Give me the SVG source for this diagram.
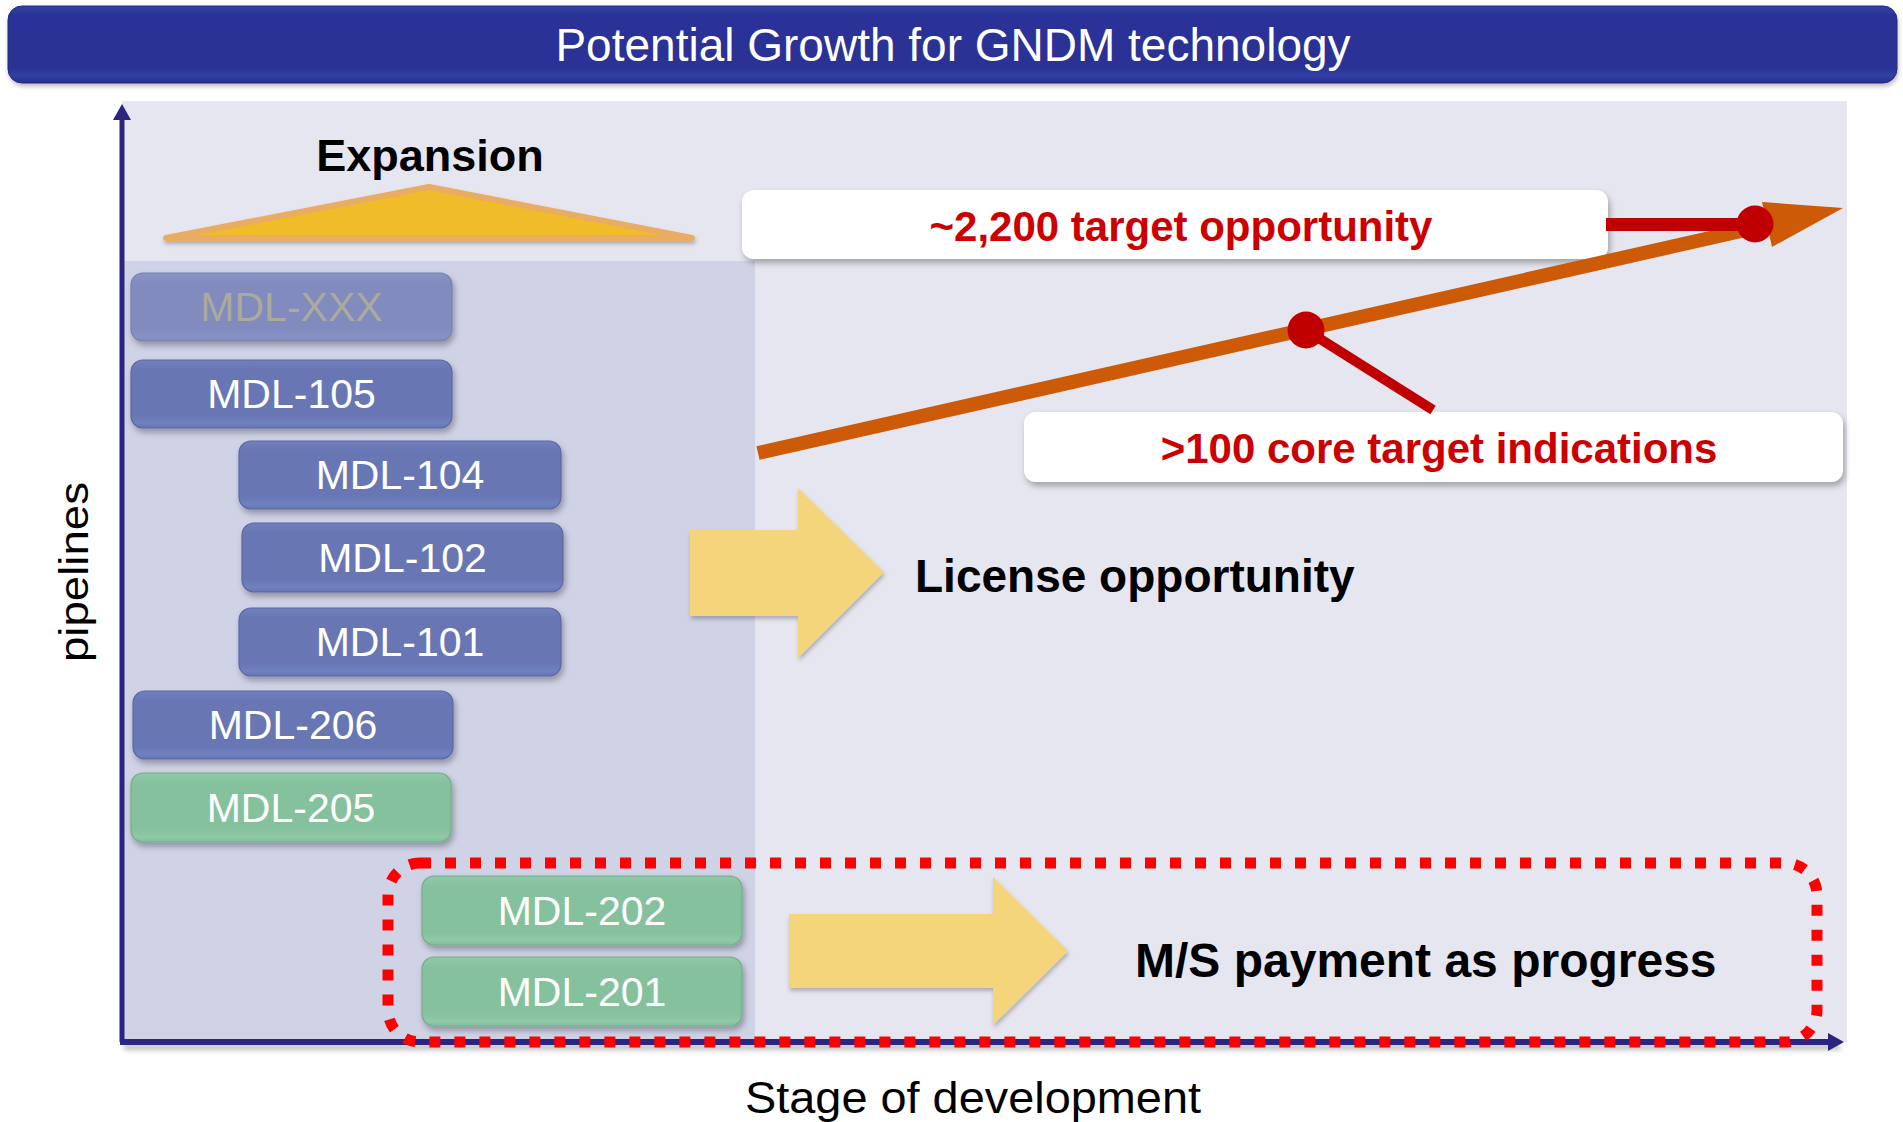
<svg xmlns="http://www.w3.org/2000/svg" width="1903" height="1122" viewBox="0 0 1903 1122">
<defs>
<linearGradient id="gTitle" x1="0" y1="0" x2="0" y2="1">
<stop offset="0" stop-color="#3341A8"/>
<stop offset="0.12" stop-color="#2A3398"/>
<stop offset="0.8" stop-color="#293295"/>
<stop offset="0.9" stop-color="#3140A4"/>
<stop offset="1" stop-color="#283094"/>
</linearGradient>
<linearGradient id="gBlue" x1="0" y1="0" x2="0" y2="1">
<stop offset="0" stop-color="#7180BD"/>
<stop offset="0.15" stop-color="#6877B4"/>
<stop offset="0.82" stop-color="#6877B4"/>
<stop offset="0.93" stop-color="#6F81BF"/>
<stop offset="1" stop-color="#6674B1"/>
</linearGradient>
<linearGradient id="gGreen" x1="0" y1="0" x2="0" y2="1">
<stop offset="0" stop-color="#90C9A8"/>
<stop offset="0.15" stop-color="#86C19E"/>
<stop offset="0.82" stop-color="#86C19E"/>
<stop offset="0.93" stop-color="#8FC9A7"/>
<stop offset="1" stop-color="#83BE9B"/>
</linearGradient>
<linearGradient id="gGrey" x1="0" y1="0" x2="0" y2="1">
<stop offset="0" stop-color="#8A94C4"/>
<stop offset="0.15" stop-color="#818BBE"/>
<stop offset="0.82" stop-color="#818BBE"/>
<stop offset="0.93" stop-color="#8893C4"/>
<stop offset="1" stop-color="#7F89BB"/>
</linearGradient>
<filter id="sh" x="-10%" y="-20%" width="120%" height="150%">
<feDropShadow dx="2" dy="4" stdDeviation="3" flood-color="#000" flood-opacity="0.3"/>
</filter>
<filter id="shs" x="-10%" y="-20%" width="120%" height="150%">
<feDropShadow dx="1" dy="3" stdDeviation="2" flood-color="#000" flood-opacity="0.25"/>
</filter>
<filter id="blur" filterUnits="userSpaceOnUse" x="0" y="1030" width="1903" height="40">
<feGaussianBlur stdDeviation="2.5"/>
</filter>
<marker id="axHead" viewBox="0 0 16 18" refX="2" refY="9" markerWidth="16" markerHeight="18" markerUnits="userSpaceOnUse" orient="auto">
<path d="M0,0 L16,9 L0,18 Z" fill="#2B2580"/>
</marker>
<style>
.node rect { stroke-width: 1.2; filter: url(#sh); }
.blue rect { fill: url(#gBlue); stroke: #5B68A3; }
.green rect { fill: url(#gGreen); stroke: #73AD8B; }
.grey rect { fill: url(#gGrey); stroke: #7580B4; }
.node text { font-family: "Liberation Sans", Arial, sans-serif; font-size: 41px; fill: #FFFFFF; text-anchor: middle; }
.grey text { fill: #ACA99D; }
.bold { font-family: "Liberation Sans", Arial, sans-serif; font-weight: bold; }
.reg { font-family: "Liberation Sans", Arial, sans-serif; }
.label rect { fill: #FFFFFF; filter: url(#sh); }
.label text { fill: #CC0000; font-size: 42px; text-anchor: middle; }
.yarrow { fill: #F5D57B; filter: url(#shs); }
</style>
</defs>

<rect width="1903" height="1122" fill="#FFFFFF"/>

<g id="title">
<rect x="8" y="6" width="1889" height="77" rx="14" fill="url(#gTitle)" stroke="#22287C" stroke-width="1" filter="url(#shs)"/>
<text x="953" y="61" class="reg" font-size="46" fill="#FFFFFF" text-anchor="middle">Potential Growth for GNDM technology</text>
</g>

<g id="plot-area">
<rect x="122" y="101" width="1725" height="941" fill="#E6E6F0"/>
<rect x="122" y="261" width="633" height="781" fill="#D0D2E6"/>
</g>

<g id="expansion">
<text x="430" y="171" class="bold" font-size="45" fill="#000000" text-anchor="middle">Expansion</text>
<polygon points="166,238 429,187 692,238" fill="#F0BC2B" stroke="#E8AC62" stroke-width="6" stroke-linejoin="round" filter="url(#shs)"/>
</g>

<g id="axes">
<line x1="124" y1="1047" x2="1840" y2="1047" stroke="#000000" stroke-opacity="0.25" stroke-width="6" filter="url(#blur)"/>
<line x1="122" y1="1042" x2="122" y2="118" stroke="#2B2580" stroke-width="5" marker-end="url(#axHead)"/>
<line x1="120" y1="1042" x2="1830" y2="1042" stroke="#2B2580" stroke-width="6" marker-end="url(#axHead)"/>
<text class="reg" font-size="40" fill="#000000" text-anchor="middle" textLength="180" lengthAdjust="spacingAndGlyphs" transform="translate(88,572) rotate(-90)">pipelines</text>
<text x="973" y="1113" class="reg" font-size="44" fill="#000000" text-anchor="middle" textLength="456" lengthAdjust="spacingAndGlyphs">Stage of development</text>
</g>

<g id="node-mdl-xxx" class="node grey"><rect x="131" y="273" width="321" height="68" rx="12"/><text x="291.5" y="321">MDL-XXX</text></g>
<g id="node-mdl-105" class="node blue"><rect x="131" y="360" width="321" height="68" rx="12"/><text x="291.5" y="408">MDL-105</text></g>
<g id="node-mdl-104" class="node blue"><rect x="239" y="441" width="322" height="68" rx="12"/><text x="400" y="489">MDL-104</text></g>
<g id="node-mdl-102" class="node blue"><rect x="242" y="523" width="321" height="69" rx="12"/><text x="402.5" y="572">MDL-102</text></g>
<g id="node-mdl-101" class="node blue"><rect x="239" y="608" width="322" height="68" rx="12"/><text x="400" y="656">MDL-101</text></g>
<g id="node-mdl-206" class="node blue"><rect x="133" y="691" width="320" height="68" rx="12"/><text x="293" y="739">MDL-206</text></g>
<g id="node-mdl-205" class="node green"><rect x="131" y="773" width="320" height="69" rx="12"/><text x="291" y="822">MDL-205</text></g>
<g id="node-mdl-202" class="node green"><rect x="422" y="876" width="320" height="69" rx="12"/><text x="582" y="925">MDL-202</text></g>
<g id="node-mdl-201" class="node green"><rect x="422" y="957" width="320" height="69" rx="12"/><text x="582" y="1006">MDL-201</text></g>

<g id="license">
<polygon class="yarrow" points="690,530 798,530 798,488 884,572 798,658 798,616 690,616"/>
<text x="915" y="592" class="bold" font-size="46" fill="#000000">License opportunity</text>
</g>

<g id="ms-payment">
<rect x="388" y="863" width="1429" height="179" rx="32" fill="none" stroke="#FF0000" stroke-width="11" stroke-dasharray="11 14"/>
<polygon class="yarrow" points="789,914 993,914 993,877 1068,951 993,1025 993,988 789,988"/>
<text x="1135" y="977" class="bold" font-size="48" fill="#000000">M/S payment as progress</text>
</g>

<g id="label-2200" class="label">
<rect x="742" y="190" width="866" height="69" rx="12"/>
<text x="1181" y="241" class="bold">~2,200 target opportunity</text>
</g>
<g id="label-100" class="label">
<rect x="1024" y="412" width="819" height="70" rx="12"/>
<text x="1439" y="463" class="bold">&gt;100 core target indications</text>
</g>

<g id="connectors">
<line x1="758" y1="453" x2="1772" y2="224" stroke="#CC5A06" stroke-width="14"/>
<polygon points="1762,202 1843,208 1772,247" fill="#CC5A06"/>
<line x1="1606" y1="224.5" x2="1755" y2="224.5" stroke="#C00000" stroke-width="13"/>
<circle cx="1755" cy="224" r="18.5" fill="#C00000"/>
<line x1="1306" y1="330" x2="1433" y2="410" stroke="#C00000" stroke-width="10"/>
<circle cx="1306" cy="330" r="18.5" fill="#C00000"/>
</g>
</svg>
